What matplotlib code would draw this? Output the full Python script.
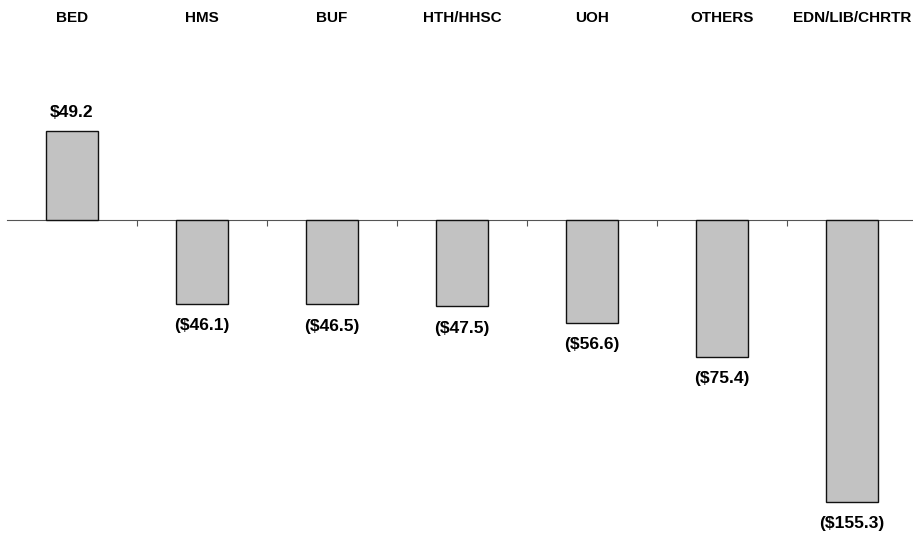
import numpy as np
import matplotlib.pyplot as plt

categories = ["BED", "HMS", "BUF", "HTH/HHSC", "UOH", "OTHERS", "EDN/LIB/CHRTR"]
values = [49.2, -46.1, -46.5, -47.5, -56.6, -75.4, -155.3]
value_labels = ["$49.2", "($46.1)", "($46.5)", "($47.5)", "($56.6)", "($75.4)", "($155.3)"]

plt.rcParams['font.family'] = ['Liberation Sans', 'DejaVu Sans']

fig = plt.figure(figsize=(9.13, 5.36), dpi=100)
ax = fig.add_axes([7 / 913, 0, 910 / 913, 436 / 536])

x = np.arange(len(categories))
ax.bar(x, values, width=0.4, color='#c2c2c2', edgecolor='#111111', linewidth=1.0, zorder=3)

ax.set_xlim(-0.5, 6.5)
ax.set_ylim(-174.1, 66.1)

for s in ['top', 'right', 'left']:
    ax.spines[s].set_visible(False)
ax.spines['bottom'].set_position(('data', 0))
ax.spines['bottom'].set_color('#555555')
ax.spines['bottom'].set_linewidth(0.8)
ax.set_yticks([])
ax.set_xticks(np.arange(0.5, 6.5, 1.0))
ax.set_xticklabels([])
ax.tick_params(axis='x', direction='out', length=4, width=0.8, color='#555555')

for xi, cat in zip(x, categories):
    ax.text(xi, 1.188, cat, transform=ax.get_xaxis_transform(), ha='center', va='center',
            fontsize=11, fontweight='bold', clip_on=False)

for xi, v, lab in zip(x, values, value_labels):
    if v >= 0:
        ax.text(xi, v + 6, lab, ha='center', va='bottom', fontsize=12.5, fontweight='bold')
    else:
        ax.text(xi, v - 8, lab, ha='center', va='top', fontsize=12.5, fontweight='bold')

fig.savefig('out.png', dpi=100)
